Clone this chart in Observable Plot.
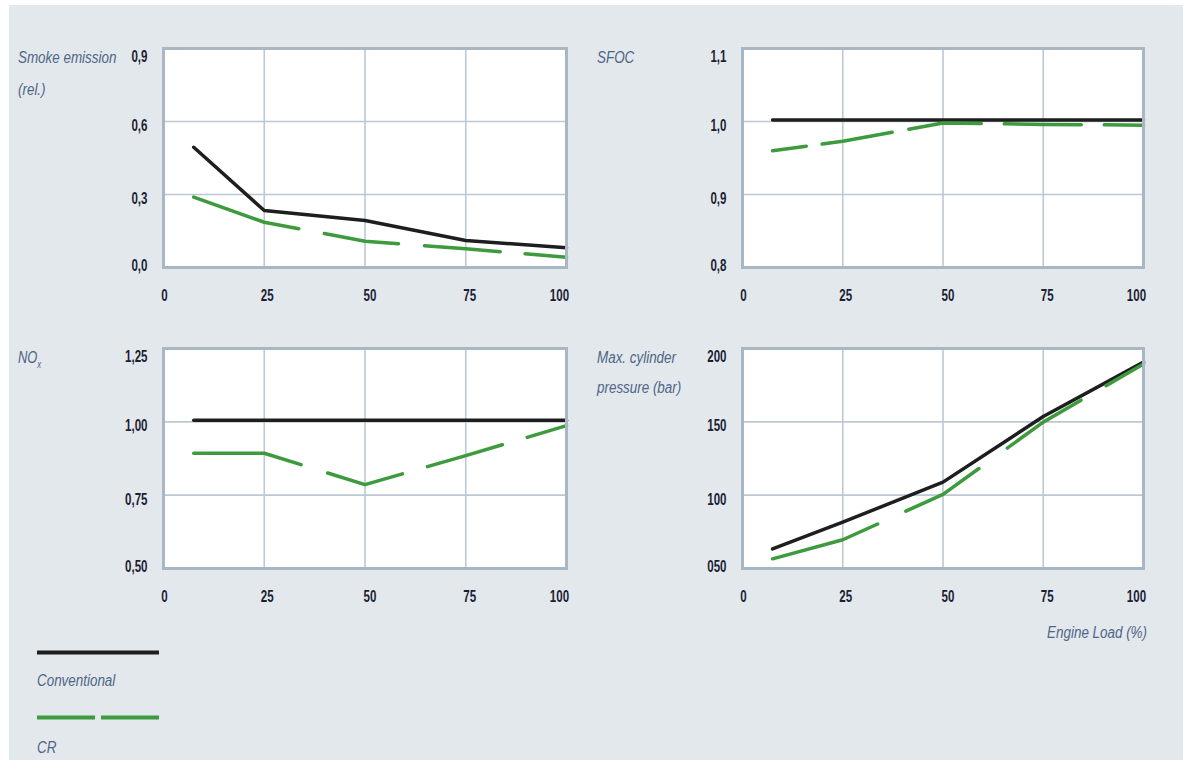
<!DOCTYPE html>
<html><head><meta charset="utf-8">
<script src="https://cdn.jsdelivr.net/npm/d3@7"></script>
<script src="https://cdn.jsdelivr.net/npm/@observablehq/plot@0.6"></script>
<style>
html,body{margin:0;padding:0;background:#fff;}
#page{position:relative;width:1185px;height:760px;overflow:hidden;}
#bg{position:absolute;left:9px;top:5px;width:1174px;height:755px;background:#e3e8ed;}
.panel{position:absolute;}
#overlay{position:absolute;left:0;top:0;}
</style></head><body><div id="page"><div id="bg"></div></div>
<script>
// ---- data ----
const loads = [7.5, 25, 50, 75, 100];          // engine load (%)
const xTicks = [0, 25, 50, 75, 100];
const xTickLabels = ["0", "25", "50", "75", "100"];

const smokeConventional = [0.494, 0.234, 0.193, 0.111, 0.081];
const smokeCR           = [0.289, 0.186, 0.108, 0.077, 0.042];
const smokeTicks  = [0, 0.3, 0.6, 0.9];
const smokeLabels = ["0,0", "0,3", "0,6", "0,9"];

const sfocConventional = [1.002, 1.002, 1.002, 1.002, 1.002];
const sfocCR           = [0.960, 0.973, 0.998, 0.996, 0.995];
const sfocTicks  = [0.8, 0.9, 1.0, 1.1];
const sfocLabels = ["0,8", "0,9", "1,0", "1,1"];

const noxConventional = [1.005, 1.005, 1.005, 1.005, 1.005];
const noxCR           = [0.893, 0.893, 0.786, 0.885, 0.987];
const noxTicks  = [0.5, 0.75, 1.0, 1.25];
const noxLabels = ["0,50", "0,75", "1,00", "1,25"];

const pmaxConventional = [63.4, 81.6, 108.9, 153.6, 190.7];
const pmaxCR           = [56.6, 69.6, 100.5, 149.8, 189.5];
const pmaxTicks  = [50, 100, 150, 200];
const pmaxLabels = ["050", "100", "150", "200"];

const seriesNames = ["Conventional", "CR"];

// ---- styling / layout ----
const BLACK = "#1e1e1e", GREEN = "#3d9a3d";
const GRID = "#bcc8d3", BORDER = "#a9b6c4", TICK_INK = "#1c1e34", LABEL_INK = "#4f6585";
const FONT = "'Liberation Sans', Arial, sans-serif";
const xTickDx = [1, 3, 5, 4, -7];
const yTickDy = [-2, 4, 4, 8.5];

const panels = [
  {left: 90,  top: 20,  plotW: 403, plotH: 219, domain: [0, 0.9],   ticks: smokeTicks, labels: smokeLabels, conv: smokeConventional, cr: smokeCR, dash: "110,26,75,26,76,25,80"},
  {left: 669, top: 20,  plotW: 401, plotH: 219, domain: [0.8, 1.1], ticks: sfocTicks,  labels: sfocLabels,  conv: sfocConventional,  cr: sfocCR,  dash: "34,16,71,17,73,23,77,23,60"},
  {left: 90,  top: 320, plotW: 403, plotH: 220, domain: [0.5, 1.25],ticks: noxTicks,   labels: noxLabels,   conv: noxConventional,   cr: noxCR,   dash: "109,28,78,26,78,26,80"},
  {left: 669, top: 320, plotW: 401, plotH: 220, domain: [50, 200],  ticks: pmaxTicks,  labels: pmaxLabels,  conv: pmaxConventional,  cr: pmaxCR,  dash: "111,31,85,35,88,29,60"}
];

const page = document.getElementById("page");

function compressText(svg, k) {
  svg.querySelectorAll("text").forEach(t => {
    const tr = t.getAttribute("transform") || "";
    t.setAttribute("transform", `${tr} scale(${k},1)`);
  });
}

for (const p of panels) {
  const mL = 73, mR = 14, mT = 28, mB = 50;
  const rows = (vals, name) => loads.map((x, i) => ({load: x, value: vals[i], series: name}));
  const conv = rows(p.conv, seriesNames[0]);
  const cr = rows(p.cr, seriesNames[1]);
  const inner = p.ticks.slice(1, -1);
  const svg = Plot.plot({
    width: mL + p.plotW + mR,
    height: mT + p.plotH + mB,
    marginLeft: mL, marginRight: mR, marginTop: mT, marginBottom: mB,
    style: {background: "transparent", fontFamily: FONT, fontSize: "17px", color: TICK_INK, overflow: "visible"},
    x: {domain: [0, 100], label: null},
    y: {domain: p.domain, label: null},
    marks: [
      Plot.frame({fill: "white", stroke: "none"}),
      Plot.gridX([25, 50, 75], {stroke: GRID, strokeOpacity: 1, strokeWidth: 1.6}),
      Plot.gridY(inner, {stroke: GRID, strokeOpacity: 1, strokeWidth: 1.6}),
      Plot.line(conv, {x: "load", y: "value", stroke: BLACK, strokeWidth: 3.5}),
      Plot.line(cr, {x: "load", y: "value", stroke: GREEN, strokeWidth: 3.5, strokeDasharray: p.dash}),
      Plot.frame({stroke: BORDER, strokeWidth: 3}),
      ...xTicks.map((t, i) => Plot.axisX([t], {tickSize: 0, tickPadding: 21, dx: xTickDx[i], label: null,
        tickFormat: d => xTickLabels[xTicks.indexOf(d)], fontSize: 17, fontWeight: "bold", fill: TICK_INK})),
      ...p.ticks.map((t, i) => Plot.axisY([t], {tickSize: 0, tickPadding: 16, dy: yTickDy[i], label: null,
        tickFormat: d => p.labels[p.ticks.indexOf(d)], fontSize: 17, fontWeight: "bold", fill: TICK_INK}))
    ]
  });
  svg.classList.add("panel");
  svg.style.left = p.left + "px";
  svg.style.top = p.top + "px";
  page.appendChild(svg);
  compressText(svg, 0.68);
}

// ---- titles, axis caption and legend ----
const ov = d3.select(page).append("svg").attr("id", "overlay").attr("width", 1185).attr("height", 760);
const labels = [
  {t: "Smoke emission", x: 18, y: 63},
  {t: "(rel.)", x: 18, y: 95},
  {t: "SFOC", x: 597, y: 63},
  {t: "Max. cylinder", x: 597, y: 363},
  {t: "pressure (bar)", x: 597, y: 393},
  {t: "Conventional", x: 37, y: 686},
  {t: "CR", x: 37, y: 753},
  {t: "Engine Load (%)", x: 1147, y: 638, anchor: "end"}
];
for (const l of labels) {
  ov.append("text").attr("transform", `translate(${l.x},${l.y}) scale(0.79,1)`)
    .attr("text-anchor", l.anchor || "start")
    .attr("font-family", FONT).attr("font-style", "italic").attr("font-size", 17)
    .attr("fill", LABEL_INK).text(l.t);
}
const nox = ov.append("text").attr("transform", "translate(18,363) scale(0.76,1)")
  .attr("font-family", FONT).attr("font-style", "italic").attr("font-size", 17).attr("fill", LABEL_INK);
nox.append("tspan").text("NO");
nox.append("tspan").attr("font-size", 10).attr("dy", 5).text("x");

// legend keys
ov.append("line").attr("x1", 37).attr("x2", 159).attr("y1", 652.5).attr("y2", 652.5)
  .attr("stroke", BLACK).attr("stroke-width", 4);
ov.append("line").attr("x1", 37).attr("x2", 159).attr("y1", 717.5).attr("y2", 717.5)
  .attr("stroke", GREEN).attr("stroke-width", 4).attr("stroke-dasharray", "58,6");
</script></body></html>
